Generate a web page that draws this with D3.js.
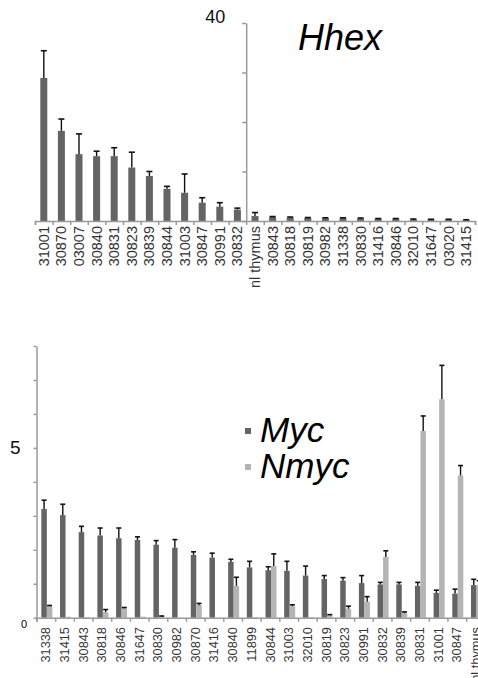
<!DOCTYPE html>
<html>
<head>
<meta charset="utf-8">
<script src="https://cdn.jsdelivr.net/npm/d3@7"></script>
<style>
  body { margin: 0; background: #fff; }
  svg { display: block; font-family: Arial, "Liberation Sans", sans-serif; }
  .lbl { fill: #333; }
</style>
</head>
<body>
<svg id="chart" width="478" height="678"></svg>
<script>
// Hhex panel
const hhexCats = ['31001','30870','03007','30840','30831','30823','30839','30844','31003','30847','30991','30832',
                  'nl thymus','30843','30818','30819','30982','31338','30830','31416','30846','32010','31647','03020','31415'];
const hhexVals = [28.9,18.2,13.5,13.1,13.1,10.8,9.1,6.5,5.7,3.7,2.9,2.3,1.0,0.8,0.7,0.6,0.55,0.55,0.5,0.45,0.45,0.35,0.3,0.3,0.2];
const hhexErr  = [5.5,2.4,4.1,1.0,1.7,3.1,0.9,0.5,3.8,1.0,0.8,0.3,0.7,0.1,0.1,0.1,0.1,0.1,0.1,0.05,0.05,0.05,0.05,0.05,0.05];
const hhexTicks = [0,10,20,30,40];

// Myc / Nmyc panel
const mycCats = ['31338','31415','30843','30818','30846','31647','30830','30982','30870','31416','30840','11899',
                 '30844','31003','32010','30819','30823','30991','30832','30839','30831','31001','30847','nl thymus'];
const mycVals  = [3.2,3.02,2.52,2.42,2.34,2.29,2.15,2.06,1.85,1.77,1.64,1.48,1.40,1.38,1.24,1.14,1.09,1.02,0.98,0.98,0.94,0.73,0.71,0.96];
const mycErr   = [0.26,0.32,0.17,0.22,0.30,0.09,0.12,0.24,0.09,0.13,0.08,0.18,0.10,0.28,0.28,0.10,0.09,0.22,0.06,0.06,0.10,0.08,0.13,0.17];
const nmycVals = [0.34,0.03,0.02,0.16,0.28,0.03,0.04,0,0.37,0,0.94,0.02,1.52,0.34,0.02,0.07,0.26,0.47,1.79,0.13,5.5,6.43,4.19,0.96];
const nmycErr  = [0.02,0,0,0.08,0.02,0,0.01,0,0.05,0,0.25,0,0.36,0.04,0,0.02,0.08,0.15,0.18,0.04,0.44,1.0,0.29,0.13];
const mycTicks = d3.range(0, 9);

const darkGrey = '#646464';
const lightGrey = '#b4b4b4';
const axisGrey = '#9a9a9a';

const svg = d3.select('#chart');

const styleAxis = g => {
    g.selectAll('path.domain').attr('stroke', axisGrey).attr('stroke-width', 1.5);
    g.selectAll('.tick line').attr('stroke', axisGrey).attr('stroke-width', 1.5);
};

const drawErr = (g, data, xPos, yScale, capW) => {
    const sel = g.selectAll('g.err').data(data.filter(d => d.err > 0)).enter().append('g').attr('class', 'err');
    sel.append('line')
        .attr('x1', d => xPos(d)).attr('x2', d => xPos(d))
        .attr('y1', d => yScale(d.v)).attr('y2', d => yScale(d.v + d.err))
        .attr('stroke', '#111').attr('stroke-width', 1.4);
    sel.append('line')
        .attr('x1', d => xPos(d) - capW / 2).attr('x2', d => xPos(d) + capW / 2)
        .attr('y1', d => yScale(d.v + d.err)).attr('y2', d => yScale(d.v + d.err))
        .attr('stroke', '#111').attr('stroke-width', 1.6);
};

// ---------- top panel ----------
{
    const x = d3.scaleBand().domain(hhexCats).range([35, 475]).padding(0);
    const y = d3.scaleLinear().domain([0, 40]).range([221, 23]);
    const g = svg.append('g');
    const bw = 7;
    const data = hhexCats.map((c, i) => ({c, v: hhexVals[i], err: hhexErr[i]}));

    g.selectAll('rect').data(data).enter().append('rect')
        .attr('x', d => x(d.c) + x.bandwidth() / 2 - bw / 2)
        .attr('width', bw)
        .attr('y', d => y(d.v))
        .attr('height', d => y(0) - y(d.v))
        .attr('fill', darkGrey);
    drawErr(g, data, d => x(d.c) + x.bandwidth() / 2, y, 6);

    // x axis with ticks at category boundaries
    const xi = d3.scaleLinear().domain([0, hhexCats.length]).range([35, 475]);
    g.append('g').attr('transform', 'translate(0,221)')
        .call(d3.axisBottom(xi).tickValues(d3.range(hhexCats.length + 1)).tickFormat('').tickSizeOuter(0).tickSize(4))
        .call(styleAxis);
    g.selectAll('text.xl').data(hhexCats).enter().append('text')
        .attr('class', 'lbl xl')
        .attr('transform', d => `translate(${x(d) + x.bandwidth() / 2 + 5},226) rotate(-90)`)
        .attr('text-anchor', 'end')
        .attr('font-size', 14.5)
        .text(d => d);

    // y axis sits between 30832 and nl thymus
    const yAxisX = xi(12);
    g.append('g').attr('transform', `translate(${yAxisX},0)`)
        .call(d3.axisLeft(y).tickValues(hhexTicks).tickSize(4).tickSizeOuter(0)
              .tickFormat(d => d === 40 ? '40' : '').tickPadding(17))
        .call(styleAxis)
        .call(a => a.selectAll('text').attr('font-size', 18).attr('fill', '#111').attr('dy', '-0.05em'));

    g.append('text').attr('x', 298).attr('y', 50)
        .attr('font-size', 36).attr('font-style', 'italic').attr('fill', '#000')
        .text('Hhex');
}

// ---------- bottom panel ----------
{
    const x0 = 36.5, step = 18.68;
    const x = d3.scaleBand().domain(mycCats).range([x0, x0 + step * mycCats.length]).padding(0);
    const y = d3.scaleLinear().domain([0, 8]).range([617.7, 346]);
    const g = svg.append('g');
    const bw = 5.5;
    const series = [
        {name: 'Myc', vals: mycVals, errs: mycErr, color: darkGrey, off: -bw},
        {name: 'Nmyc', vals: nmycVals, errs: nmycErr, color: lightGrey, off: 0}
    ];
    series.forEach(s => {
        const data = mycCats.map((c, i) => ({c, v: s.vals[i], err: s.errs[i]}));
        const cx = d => x(d.c) + x.bandwidth() / 2 + 1 + s.off;
        g.append('g').selectAll('rect').data(data).enter().append('rect')
            .attr('x', d => cx(d))
            .attr('width', bw)
            .attr('y', d => y(d.v))
            .attr('height', d => y(0) - y(d.v))
            .attr('fill', s.color);
        drawErr(g.append('g'), data, d => cx(d) + bw / 2, y, 5);
    });

    const xi = d3.scaleLinear().domain([0, mycCats.length]).range([x0, x0 + step * mycCats.length]);
    g.append('g').attr('transform', `translate(0,${y(0)})`)
        .call(d3.axisBottom(xi).tickValues(d3.range(mycCats.length + 1)).tickFormat('').tickSizeOuter(0).tickSize(4))
        .call(styleAxis);
    g.selectAll('text.xl').data(mycCats).enter().append('text')
        .attr('class', 'lbl xl')
        .attr('transform', d => `translate(${x(d) + x.bandwidth() / 2 + 4.5},627) rotate(-90)`)
        .attr('text-anchor', 'end')
        .attr('font-size', 12.8)
        .text(d => d);

    g.append('g').attr('transform', `translate(${x0},0)`)
        .call(d3.axisLeft(y).tickValues(mycTicks).tickSize(3).tickSizeOuter(0)
              .tickFormat(d => d === 5 ? '5' : '').tickPadding(13))
        .call(styleAxis)
        .call(a => a.selectAll('text').attr('font-size', 19).attr('fill', '#111'));
    g.append('text').attr('x', 27).attr('y', 628).attr('text-anchor', 'end')
        .attr('font-size', 11).attr('fill', '#000').text('0');

    // legend
    const leg = g.append('g');
    const legY = [431, 467];
    series.forEach((s, i) => {
        leg.append('rect').attr('x', 245).attr('y', legY[i] - 3).attr('width', 6).attr('height', 6).attr('fill', s.color);
        leg.append('text').attr('x', 260).attr('y', legY[i] + 11)
            .attr('font-size', 35).attr('font-style', 'italic').attr('fill', '#000')
            .text(s.name);
    });
}
</script>
</body>
</html>
